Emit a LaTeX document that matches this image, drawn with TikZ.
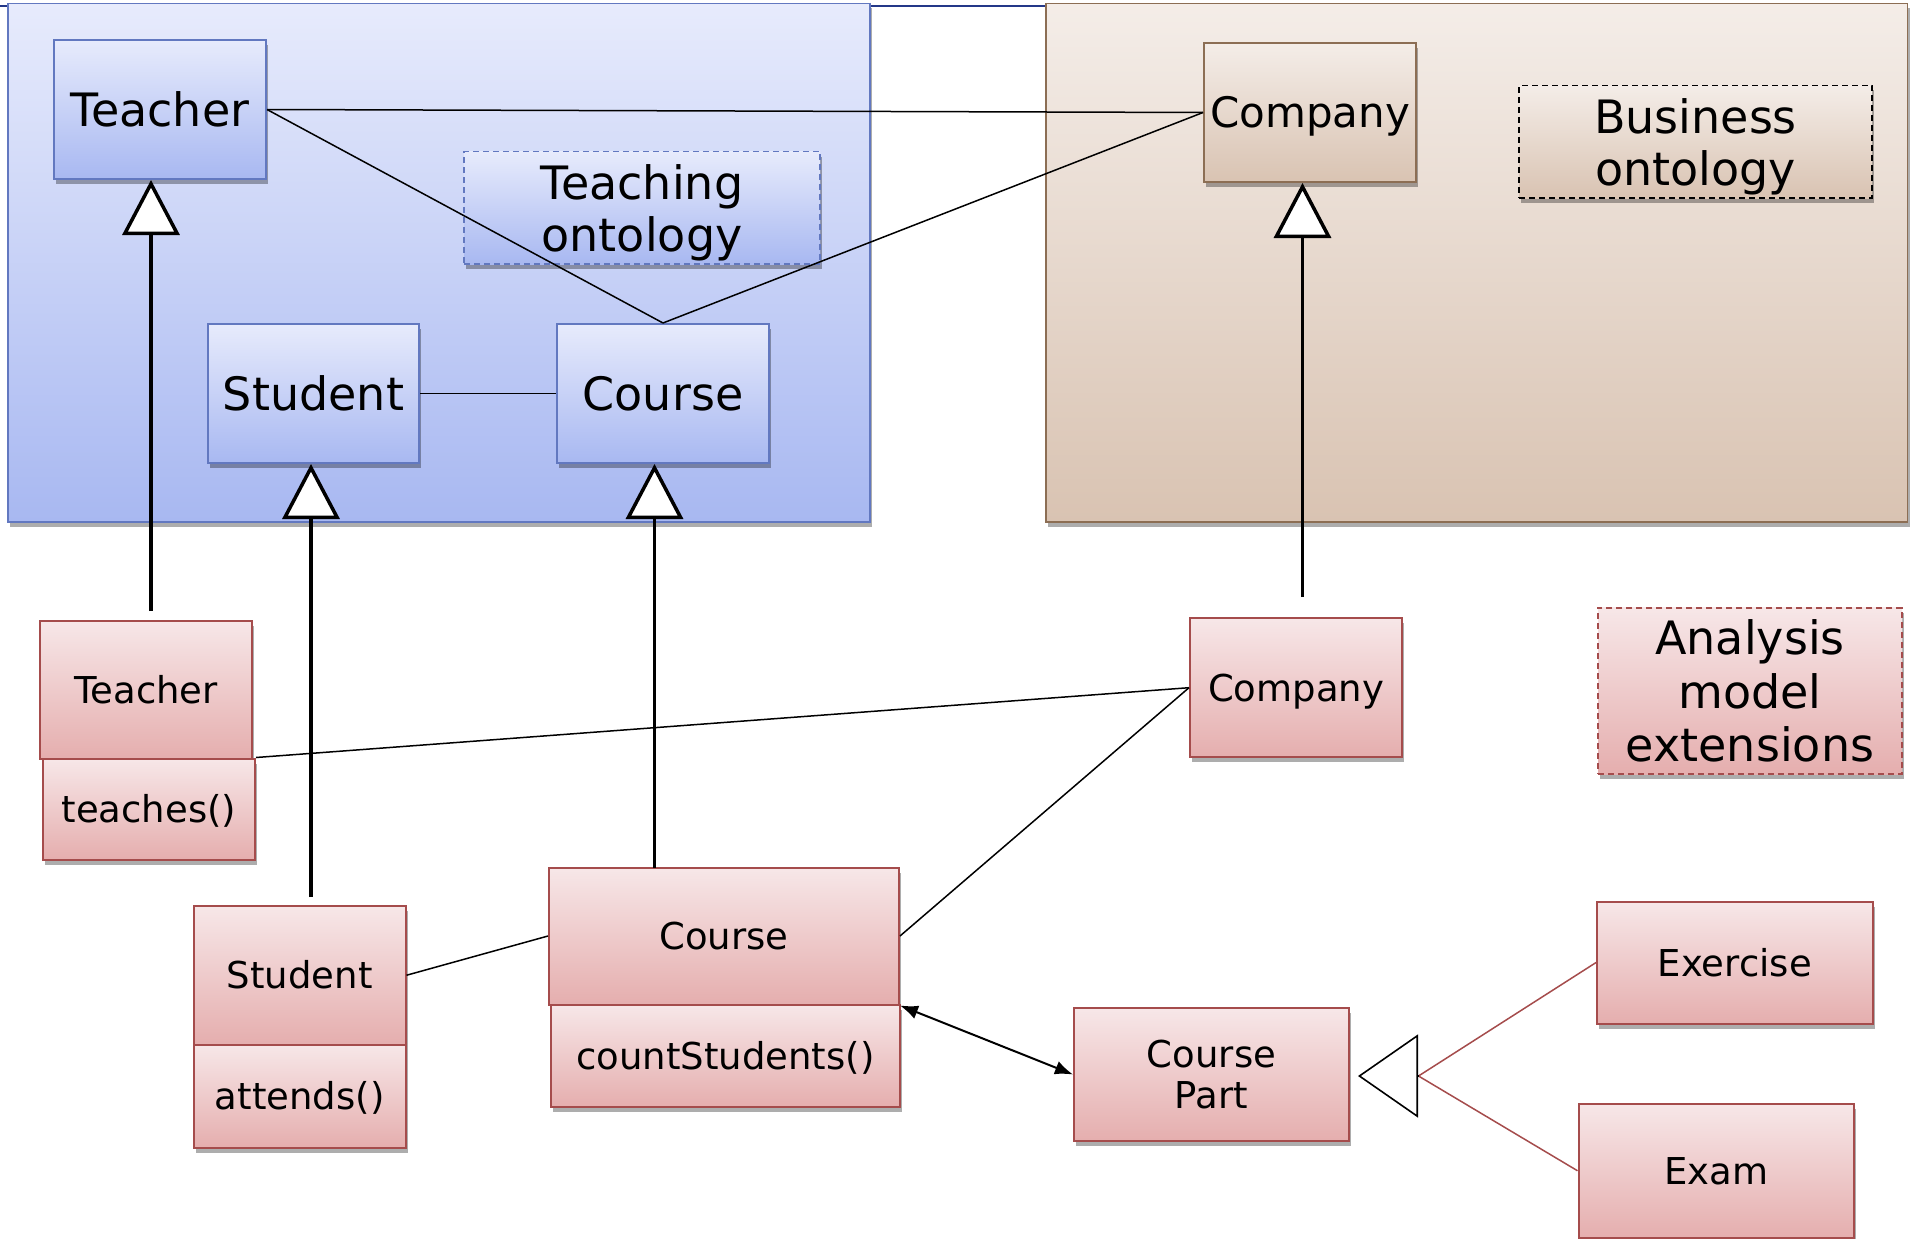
\documentclass[tikz,border=0pt]{standalone}
\usepackage{fontspec}
\setmainfont{DejaVu Sans}
\usetikzlibrary{arrows.meta,shadows,calc}

\definecolor{bluetop}{RGB}{231,235,252}
\definecolor{bluebot}{RGB}{168,184,241}
\definecolor{blueedge}{RGB}{98,120,192}
\definecolor{browntop}{RGB}{244,237,232}
\definecolor{brownbot}{RGB}{217,195,178}
\definecolor{brownedge}{RGB}{140,110,84}
\definecolor{pinktop}{RGB}{247,231,232}
\definecolor{pinkbot}{RGB}{229,174,174}
\definecolor{pinkedge}{RGB}{165,76,76}
\definecolor{framenavy}{RGB}{36,56,136}

\newcommand\bigtxt{\fontsize{46}{52}\selectfont}
\newcommand\talltxt{\fontsize{46}{53.5}\selectfont}
\newcommand\midtxt{\fontsize{42}{48}\selectfont}
\newcommand\smalltxt{\fontsize{37}{41}\selectfont}

\begin{document}
\begin{tikzpicture}[x=1pt,y=-1pt,
  shadowed/.style={drop shadow={shadow xshift=2pt,shadow yshift=-5pt,opacity=0.32,fill=black}},
  panel/.style={draw,line width=1.5pt,inner sep=0pt,shadowed},
  box/.style={draw,line width=2pt,inner sep=0pt,align=center,shadowed},
  bluebox/.style={box,draw=blueedge,top color=bluetop,bottom color=bluebot},
  brownbox/.style={box,draw=brownedge,top color=browntop,bottom color=brownbot},
  pinkbox/.style={box,draw=pinkedge,top color=pinktop,bottom color=pinkbot},
  bigone/.style={font=\bigtxt,text height=33.5pt,text depth=0pt},
  midone/.style={font=\midtxt,text height=30.5pt,text depth=0pt},
  smallone/.style={font=\smalltxt,text height=27pt,text depth=0pt},
  legend/.style={dashed,dash pattern=on 6pt off 4pt,line width=1.6pt},
  assoc/.style={line width=1.5pt},
  gen/.style={line width=3.5pt,-{Triangle[length=55pt,width=57pt,fill=white]}},
  gensmall/.style={line width=1.6pt,-{Triangle[length=60pt,width=83pt,fill=white]}},
  subline/.style={line width=1.5pt,draw=pinkedge},
  biarrow/.style={line width=2pt,{Latex[length=18pt,width=14pt]}-{Latex[length=18pt,width=14pt]}}
]
\useasboundingbox (0,0) rectangle (1915,1239);

% frame line along the top edge
\draw[framenavy,line width=1.5pt] (0,6) -- (1046,6);

% the two ontology panels
\node[panel,draw=blueedge,top color=bluetop,bottom color=bluebot,
      minimum width=862pt,minimum height=518.5pt] (teachPanel) at (439,262.75) {};
\node[panel,draw=brownedge,top color=browntop,bottom color=brownbot,
      minimum width=861.5pt,minimum height=518.5pt] (busPanel) at (1476.75,262.75) {};

% teaching ontology classes
\node[bluebox,bigone,minimum width=212pt,minimum height=139pt] (tU) at (160,109.5) {Teacher};
\node[bluebox,bigone,minimum width=211pt,minimum height=139pt] (sU) at (313.5,393.5) {Student};
\node[bluebox,bigone,minimum width=212pt,minimum height=139pt] (cU) at (663,393.5) {Course};
\node[bluebox,legend,font=\bigtxt,minimum width=356pt,minimum height=112.5pt,
      text depth=0pt] (teachOnt) at (642,207.75) {Teaching\\ontology};

% business ontology classes
\node[brownbox,midone,minimum width=212pt,minimum height=139pt] (coU) at (1310,112.5) {Company};
\node[brownbox,legend,draw=black,font=\bigtxt,minimum width=353pt,minimum height=112.5pt,
      text depth=0pt] (busOnt) at (1695.5,141.75) {Business\\ontology};

% analysis model classes
\node[pinkbox,smallone,minimum width=212pt,minimum height=137.6pt] (tL) at (146,689.8) {Teacher};
\node[pinkbox,smallone,minimum width=212pt,minimum height=101pt] (tM) at (149,809) {teaches()};
\node[pinkbox,smallone,minimum width=211.5pt,minimum height=138.5pt] (sL) at (299.75,975.25) {Student};
\node[pinkbox,smallone,minimum width=211.5pt,minimum height=103pt] (sM) at (299.75,1096) {attends()};
\node[pinkbox,smallone,minimum width=350pt,minimum height=137pt] (cL) at (724,936) {Course};
\node[pinkbox,smallone,minimum width=349pt,minimum height=102.5pt] (cM) at (725.5,1055.75) {countStudents()};
\node[pinkbox,smallone,minimum width=212pt,minimum height=139.4pt] (coL) at (1296,687.7) {Company};
\node[pinkbox,legend,font=\talltxt,minimum width=304pt,minimum height=166.3pt] (anaExt) at (1750,690.85) {Analysis\\model\\extensions};
\node[pinkbox,font=\smalltxt,minimum width=275pt,minimum height=133pt] (cp) at (1211.5,1074.5) {Course\\Part};
\node[pinkbox,smallone,minimum width=275.5pt,minimum height=122pt] (ex) at (1734.75,962.55) {Exercise};
\node[pinkbox,smallone,minimum width=275.5pt,minimum height=134pt] (exam) at (1716.25,1170.75) {Exam};

% associations inside the ontologies
\draw[assoc] (tU.east) -- (coU.west);
\draw[assoc] (tU.east) -- (cU.north);
\draw[assoc] (cU.north) -- (coU.west);
\draw[assoc] (sU.east) -- (cU.west);

% associations in the analysis model
\draw[assoc] (tM.north east) -- (coL.west);
\draw[assoc] (cL.east) -- (coL.west);
\draw[assoc] (sL.east) -- (cL.west);
\draw[biarrow] (cL.south east) -- (cp.west);

% generalizations towards the ontology classes
\coordinate (gT) at (151,611);
\coordinate (gS) at (311,897);
\coordinate (gC) at (654.5,867.5);
\coordinate (gCo) at (1302.5,597);
\draw[gen] (gT) -- (gT |- tU.south);
\draw[gen] (gS) -- (gS |- sU.south);
\draw[gen] (gC) -- (gC |- cU.south);
\draw[gen] (gCo) -- (gCo |- coU.south);

% course part specializations
\coordinate (gJoin) at (1418.5,1076);
\coordinate (gTip) at (1358,1076);
\draw[subline] (ex.west) -- (gJoin);
\draw[subline] (exam.west) -- (gJoin);
\draw[gensmall] (gJoin) -- (gTip);
\end{tikzpicture}
\end{document}
